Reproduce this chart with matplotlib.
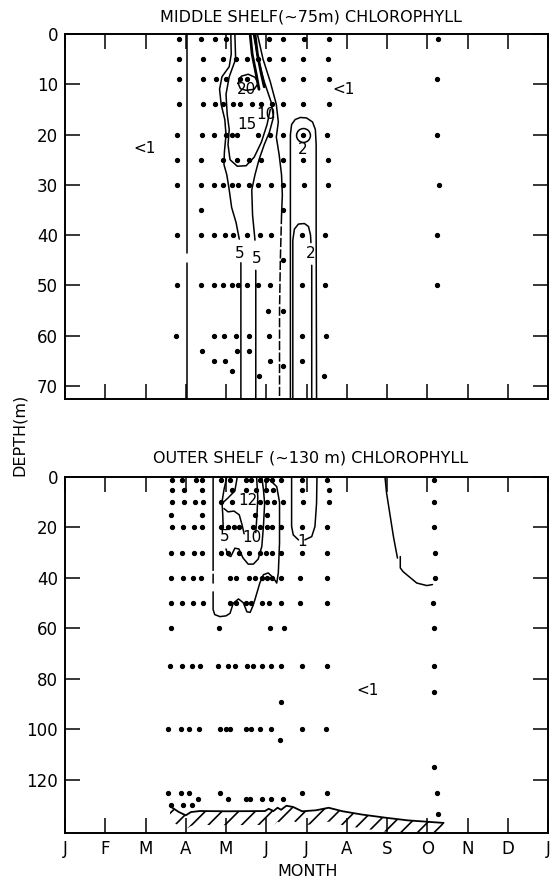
import numpy as np
import matplotlib.pyplot as plt

plt.rcParams['font.family'] = ['DejaVu Sans']
plt.rcParams['hatch.linewidth'] = 1.2

# -----------------------------------DATA----------------------------------
month_labels = ['J', 'F', 'M', 'A', 'M', 'J', 'J', 'A', 'S', 'O', 'N', 'D', 'J']

# middle shelf (~75 m): sample depths and the months sampled at each depth
mid_depths = [1, 5, 9, 14, 20, 25, 30, 35, 40, 45, 50, 55, 60, 63, 65, 66, 67, 68]
mid_months = [
    [2.82, 3.39, 3.72, 4.00, 5.06, 5.41, 5.95, 6.55, 9.27],
    [2.82, 3.42, 3.93, 4.25, 4.53, 4.79, 5.06, 5.41, 5.92, 6.53],
    [2.84, 3.42, 3.74, 4.00, 4.35, 4.53, 5.41, 5.92, 6.55, 9.24],
    [2.82, 3.42, 3.72, 3.93, 4.18, 4.35, 4.64, 4.88, 5.14, 5.41, 5.92, 6.55],
    [2.79, 3.41, 3.70, 4.00, 4.14, 4.28, 4.79, 5.10, 5.41, 5.92, 6.52, 9.24],
    [2.79, 3.39, 3.93, 4.28, 4.57, 4.86, 5.41, 5.92, 6.53],
    [2.79, 3.39, 3.70, 3.92, 4.14, 4.31, 4.57, 4.79, 5.13, 5.41, 5.94, 6.53, 9.29],
    [3.39, 5.41],
    [2.79, 3.37, 3.70, 3.98, 4.18, 4.53, 4.84, 5.13, 5.90, 6.46, 9.23],
    [5.41],
    [2.79, 3.37, 3.70, 3.93, 4.14, 4.31, 4.53, 4.79, 5.10, 5.90, 6.46, 9.23],
    [5.04, 5.41],
    [2.77, 3.70, 3.96, 4.25, 4.57, 5.06, 5.89, 6.48],
    [3.41, 4.28, 4.56],
    [3.70, 3.98, 5.10, 5.89],
    [5.41],
    [4.16],
    [4.81, 6.44],
]

# outer shelf (~130 m)
out_depths = [1, 5, 10, 15, 20, 30, 40, 50, 60, 75, 85, 89, 100, 104, 115, 125, 127.5, 130, 133.5]
out_months = [
    [2.65, 2.90, 3.25, 3.40, 3.88, 4.10, 4.49, 4.62, 4.84, 5.00, 5.15, 5.37, 5.90, 6.52, 9.18],
    [2.65, 2.96, 3.40, 4.14, 4.49, 4.75, 5.00, 5.17, 5.88, 6.55],
    [2.65, 2.96, 3.22, 3.42, 3.88, 4.14, 4.84, 5.02, 5.19, 5.41, 5.91, 6.57, 9.18],
    [2.64, 3.40, 4.71, 5.02],
    [2.65, 2.92, 3.20, 3.40, 3.88, 4.05, 4.19, 4.32, 4.67, 4.84, 5.02, 5.15, 5.37, 5.88, 6.52, 9.18],
    [2.63, 2.90, 3.20, 3.40, 3.88, 4.05, 4.32, 4.58, 4.84, 5.00, 5.15, 5.37, 5.88, 6.52, 9.19],
    [2.63, 2.93, 3.18, 3.37, 4.10, 4.25, 4.58, 4.71, 4.89, 5.02, 5.15, 5.37, 5.85, 6.52, 9.19],
    [2.63, 2.90, 3.18, 3.42, 4.10, 4.25, 4.49, 4.62, 4.89, 5.06, 5.37, 5.85, 6.51, 9.15],
    [2.63, 3.82, 5.09, 5.43, 9.18],
    [2.61, 2.90, 3.16, 3.35, 3.81, 4.04, 4.23, 4.51, 4.68, 4.89, 5.12, 5.37, 5.88, 6.52, 9.18],
    [9.18],
    [5.37],
    [2.55, 2.87, 3.09, 3.34, 3.84, 4.01, 4.10, 4.49, 4.62, 4.84, 5.11, 5.88, 6.49],
    [5.35],
    [9.16],
    [2.57, 2.87, 3.09, 3.84, 5.88, 6.52, 9.25],
    [3.31, 4.04, 4.49, 4.60, 4.89, 5.11, 5.41],
    [2.64, 2.92, 3.16],
    [9.26],
]

# chlorophyll isopleths, (month, depth) pairs, None = break in the line
mid_lt1 = [(3.02, 0), (3.02, 43.5), None, (3.02, 45.5), (3.02, 72.6)]
mid_c5a = [(4.12, 0), (4.13, 4), (4.08, 6.5), (3.90, 8.5), (3.84, 11), (3.88, 14), (3.97, 17),
           (4.00, 20), (3.96, 23.5), (3.95, 26), (4.02, 28), (4.08, 31), (4.14, 34.5),
           (4.25, 37.5), (4.33, 40.8), None, (4.37, 45.5), (4.37, 72.6)]
mid_c15 = [(4.22, 0), (4.24, 5), (4.08, 8.5), (4.00, 12), (4.03, 16), (4.08, 19), (4.05, 22),
           (4.10, 25), (4.28, 26.3), (4.50, 26.2), (4.70, 24.5), (4.88, 21.5), (5.02, 18),
           (5.10, 15)]
mid_c5b = [(4.68, 0), (4.80, 5), (4.95, 9.5), (5.12, 13.5), (5.18, 16.5), (5.08, 19.5),
           (4.95, 22), (4.82, 25), (4.72, 28), (4.64, 31), (4.66, 36), (4.72, 41), None,
           (4.74, 47), (4.74, 72.6)]
mid_c2a = [(4.78, 0), (4.92, 5), (5.10, 9.5), (5.25, 14), (5.30, 17.5), (5.25, 20.5),
           (5.32, 24), (5.38, 28), (5.40, 32), (5.38, 36)]
mid_c2a_low = [(5.38, 36), (5.35, 45), (5.33, 55), (5.33, 72.6)]
mid_c20 = [(4.30, 9.8), (4.38, 8.4), (4.55, 8.0), (4.72, 8.6), (4.80, 9.8), (4.70, 11.0),
           (4.50, 11.2), (4.36, 10.9), (4.30, 9.8)]
mid_bundle = [[(4.60, 0), (4.65, 4), (4.75, 8), (4.82, 11)],
              [(4.72, 0), (4.78, 4), (4.88, 8), (4.95, 10.5)]]
mid_c2_outer = [(5.60, 72.6), (5.60, 20), (5.63, 18), (5.72, 17), (5.85, 16.6), (6.00, 16.7),
                (6.15, 17.5), (6.22, 19), (6.24, 22), (6.24, 40), (6.25, 72.6)]
mid_c2_inner = [(5.66, 72.6), (5.66, 41), (5.70, 38.8), (5.80, 37.8), (5.95, 37.7),
                (6.05, 38.3), (6.10, 40), (6.11, 41.5), None, (6.13, 46), (6.13, 72.6)]
mid_ring = (5.91, 20.0)

out_c1 = [(3.68, 0), (3.68, 37), None, (3.68, 38.5), (3.68, 42), None, (3.68, 45.5),
          (3.68, 52.5), (3.72, 54.5), (3.85, 55.3), (4.00, 55.0), (4.10, 54), (4.18, 50),
          (4.31, 48.3), (4.43, 49.8), (4.52, 53.4), (4.60, 53.6), (4.67, 51), (4.72, 48.5),
          (4.84, 42), (4.93, 38.7), (5.05, 38), (5.18, 40), (5.26, 42), (5.30, 38),
          (5.33, 26), (5.33, 10), (5.26, 3.8), (5.09, 1.2), (5.01, 0)]
out_c5 = [(4.02, 0), (3.95, 5), (3.90, 10), (3.92, 15), (3.93, 20), None, (4.00, 28.5),
          (4.05, 31), (4.12, 31.5), (4.22, 28.2), (4.32, 28.5), (4.42, 32), (4.55, 34.5),
          (4.68, 34.5), (4.80, 32.5), (4.89, 27.5), (4.93, 19.6), (4.96, 10.4), (4.93, 5),
          (4.89, 0)]
out_c10 = [(3.95, 12.5), (4.05, 13.8), (4.20, 13.5), (4.33, 15), (4.40, 19), (4.45, 22.5),
           None, (4.74, 22), (4.77, 15), (4.79, 8), (4.76, 0)]
out_c12 = [(3.90, 10.5), (4.05, 8.3), (4.22, 5.5), (4.28, 0)]
out_c1b = [(5.63, 0), (5.63, 19.5), (5.67, 22.9), (5.80, 24.9), None, (5.96, 24.9),
           (6.13, 23.6), (6.21, 19.6), (6.25, 10.4), (6.26, 0)]
out_c1c = [(7.95, 0), (7.99, 6.4), (8.16, 23.6), (8.26, 32.1), None, (8.33, 31.5),
           (8.33, 36), (8.40, 37.5), (8.49, 38.7), (8.74, 42), (8.99, 43), (9.13, 42.6)]

seabed_month = [2.61, 2.83, 3.00, 3.13, 3.35, 4.05, 4.97, 5.06, 5.18, 5.28, 5.37, 5.50,
                5.67, 5.89, 6.24, 6.55, 6.90, 7.38, 7.99, 8.52, 9.05, 9.40]
seabed_depth = [130.4, 132.7, 134.0, 132.7, 132.3, 132.4, 132.3, 131.4, 132.3, 131.0,
                131.8, 130.2, 130.7, 132.4, 132.0, 131.0, 132.4, 133.7, 135.0, 136.0,
                136.6, 137.0]

mid_labels = [('<1', 1.98, 22.7), ('<1', 6.92, 11.1), ('20', 4.51, 11.0), ('15', 4.52, 18.0),
              ('10', 5.00, 16.0), ('5', 4.33, 43.6), ('5', 4.76, 44.6), ('2', 5.90, 23.0),
              ('2', 6.11, 43.6)]
out_labels = [('12', 4.54, 9.2), ('5', 3.97, 23.7), ('10', 4.64, 23.8), ('1', 5.88, 25.5),
              ('<1', 7.51, 84.4)]


# -----------------------------------FUNCTIONS----------------------------------

def toArray(points):
    return np.array([(np.nan, np.nan) if p is None else p for p in points], dtype=float)

def drawLine(ax, points, **kw):
    xy = toArray(points)
    ax.plot(xy[:, 0], xy[:, 1], color='k', lw=kw.pop('lw', 1.1), solid_capstyle='round', **kw)

def drawSamples(ax, depths, months):
    for d, ms in zip(depths, months):
        ax.plot(ms, [d] * len(ms), 'ko', markersize=2.8)

def drawLabels(ax, labels):
    for s, m, d in labels:
        ax.text(m, d, s, fontsize=11, ha='center', va='center')

def setupAxes(ax, depth_max, yticks, show_months):
    ax.set_xlim(0, 12)
    ax.set_ylim(depth_max, 0)
    ax.set_xticks(range(13))
    ax.set_yticks(yticks)
    ax.set_yticklabels([str(t) for t in yticks])
    if show_months:
        ax.set_xticklabels(month_labels)
    else:
        ax.set_xticklabels([])
    ax.tick_params(direction='in', length=11, width=1.1, top=True, right=True,
                   labelsize=12, pad=5)
    for sp in ax.spines.values():
        sp.set_linewidth(1.4)


# -----------------------------------MAIN SCRIPT--------------------------------
fig = plt.figure(figsize=(5.52, 8.83), dpi=100)
ax1 = fig.add_axes([65 / 552, 1 - 399 / 883, 483 / 552, 365 / 883])
ax2 = fig.add_axes([65 / 552, 1 - 833 / 883, 483 / 552, 356 / 883])

# middle shelf
drawSamples(ax1, mid_depths, mid_months)
for line in [mid_lt1, mid_c5a, mid_c15, mid_c5b, mid_c2a, mid_c20, mid_c2_outer, mid_c2_inner]:
    drawLine(ax1, line)
drawLine(ax1, mid_c2a_low, ls=(0, (6, 1.5)))
for line in mid_bundle:
    drawLine(ax1, line, lw=2.0)
ax1.plot(*mid_ring, 'o', mfc='none', mec='k', mew=1.1, markersize=10)
drawLabels(ax1, mid_labels)
setupAxes(ax1, 72.6, list(range(0, 71, 10)), False)

# outer shelf
drawSamples(ax2, out_depths, out_months)
for line in [out_c1, out_c5, out_c10, out_c12, out_c1b, out_c1c]:
    drawLine(ax2, line)
ax2.plot(seabed_month, seabed_depth, 'k-', lw=1.3)
ax2.fill_between(seabed_month, seabed_depth, np.array(seabed_depth) + 5.5,
                 facecolor='none', edgecolor='k', hatch='//', linewidth=0)
drawLabels(ax2, out_labels)
setupAxes(ax2, 141, list(range(0, 121, 20)), True)

fig.text(311 / 552, 1 - 17 / 883, 'MIDDLE SHELF(~75m) CHLOROPHYLL',
         ha='center', va='center', fontsize=11.5)
fig.text(311 / 552, 1 - 458 / 883, 'OUTER SHELF (~130 m) CHLOROPHYLL',
         ha='center', va='center', fontsize=11.5)
fig.text(19 / 552, 1 - 435 / 883, 'DEPTH(m)', rotation=90,
         ha='center', va='center', fontsize=11.5)
fig.text(308 / 552, 1 - 871 / 883, 'MONTH', ha='center', va='center', fontsize=11.5)

fig.savefig('out.png', dpi=100)
